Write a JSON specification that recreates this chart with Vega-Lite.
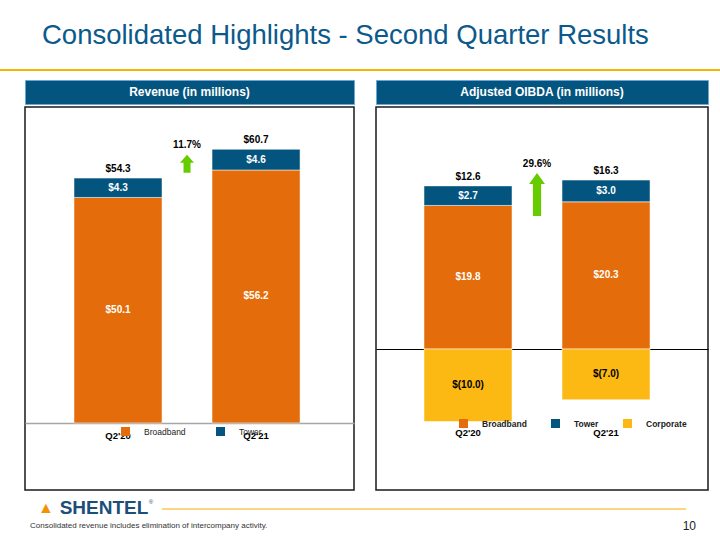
{
  "$schema": "https://vega.github.io/schema/vega-lite/v6.json",
  "padding": {"left": 0, "top": 22, "right": 0, "bottom": 0},
  "background": "white",
  "title": {
    "text": "Consolidated Highlights - Second Quarter Results",
    "anchor": "start",
    "dx": 42,
    "fontSize": 27.5,
    "font": "Liberation Sans",
    "fontWeight": "normal",
    "color": "#0c5a8b",
    "offset": 19.5
  },
  "spacing": 8,
  "vconcat": [
    {
      "width": 720, "height": 2,
      "view": {"fill": "#f2b600", "stroke": null},
      "data": {"values": [{"t": ""}]},
      "mark": {"type": "text", "fontSize": 1},
      "encoding": {"text": {"field": "t"}}
    },
    {
      "spacing": 20,
      "resolve": {"scale": {"color": "independent"}, "legend": {"color": "independent"}},
      "hconcat": [
        {"width": 4, "height": 10, "data": {"values": [{"t": ""}]}, "mark": {"type": "text", "fontSize": 1}, "encoding": {"text": {"field": "t"}}},
        {
          "spacing": 1,
          "vconcat": [
            {
              "width": 329, "height": 24,
              "view": {"fill": "#03557f", "stroke": "#6aa6d6", "strokeWidth": 1},
              "data": {"values": [{"t": "Revenue (in millions)"}]},
              "mark": {"type": "text", "color": "#ffffff", "fontWeight": "bold", "fontSize": 12, "baseline": "middle"},
              "encoding": {"text": {"field": "t"}}
            },
            {
              "width": 329, "height": 383,
              "view": {"stroke": "#1a1a1a", "strokeWidth": 1.5},
              "data": {"values": [
                {"q": "Q2'20", "seg": "Broadband", "v": 50.1, "lab": "$50.1", "total": "$54.3"},
                {"q": "Q2'20", "seg": "Tower", "v": 4.3, "lab": "$4.3", "total": "$54.3"},
                {"q": "Q2'21", "seg": "Broadband", "v": 56.2, "lab": "$56.2", "total": "$60.7"},
                {"q": "Q2'21", "seg": "Tower", "v": 4.6, "lab": "$4.6", "total": "$60.7"}
              ]},
              "layer": [
                {
                  "mark": {"type": "bar", "stroke": "#ffffff", "strokeWidth": 0.5},
                  "encoding": {
                    "x": {"field": "q", "type": "nominal", "axis": null,
                      "scale": {"domain": ["Q2'20", "Q2'21"], "paddingInner": 0.3623, "paddingOuter": 0.373, "align": 0.476}},
                    "y": {"field": "v", "type": "quantitative", "stack": "zero",
                      "axis": {"values": [0], "grid": true, "gridColor": "#a6a6a6", "gridWidth": 1.5, "labels": false, "ticks": false, "domain": false, "title": null},
                      "scale": {"domain": [-14.9, 70.2], "nice": false, "zero": false}},
                    "color": {"field": "seg", "type": "nominal",
                      "scale": {"domain": ["Broadband", "Tower"], "range": ["#e46c0a", "#03557f"]},
                      "legend": {"orient": "none", "legendX": 96, "legendY": 347, "direction": "horizontal", "title": null,
                        "symbolType": "square", "symbolSize": 81, "symbolStrokeWidth": 0, "labelFontSize": 8.5,
                        "labelOffset": 14, "columnPadding": 30, "labelColor": "#222222", "labelFont": "Liberation Sans"}},
                    "order": {"field": "seg", "sort": "ascending"}
                  }
                },
                {
                  "mark": {"type": "text", "fontWeight": "bold", "fontSize": 10, "color": "#ffffff", "baseline": "middle"},
                  "encoding": {
                    "x": {"field": "q", "type": "nominal"},
                    "y": {"field": "v", "type": "quantitative", "stack": "zero", "bandPosition": 0.5},
                    "detail": {"field": "seg"},
                    "order": {"field": "seg", "sort": "ascending"},
                    "text": {"field": "lab"}
                  }
                },
                {
                  "transform": [
                    {"filter": "datum.v > 0"},
                    {"aggregate": [{"op": "sum", "field": "v", "as": "top"}], "groupby": ["q", "total"]}
                  ],
                  "mark": {"type": "text", "fontWeight": "bold", "fontSize": 10, "color": "#000000", "baseline": "bottom", "dy": -4},
                  "encoding": {
                    "x": {"field": "q", "type": "nominal"},
                    "y": {"field": "top", "type": "quantitative"},
                    "text": {"field": "total"}
                  }
                },
                {
                  "transform": [{"filter": "datum.seg === 'Broadband'"}],
                  "mark": {"type": "text", "fontWeight": "bold", "fontSize": 9.5, "color": "#000000", "baseline": "middle", "dy": 13},
                  "encoding": {
                    "x": {"field": "q", "type": "nominal"},
                    "y": {"datum": 0, "type": "quantitative"},
                    "text": {"field": "q"}
                  }
                },
                {
                  "data": {"values": [{"g": "11.7%"}]},
                  "mark": {"type": "point", "filled": true, "opacity": 1, "color": "#66cc00", "size": 324,
                    "shape": "M0,-1 L0.78,-0.11 L0.39,-0.11 L0.39,1 L-0.39,1 L-0.39,-0.11 L-0.78,-0.11 Z"},
                  "encoding": {
                    "x": {"datum": "Q2'20", "bandPosition": 1.284},
                    "y": {"datum": 57.6, "type": "quantitative"}
                  }
                },
                {
                  "data": {"values": [{"g": "11.7%"}]},
                  "mark": {"type": "text", "fontWeight": "bold", "fontSize": 10, "color": "#000000", "baseline": "middle"},
                  "encoding": {
                    "x": {"datum": "Q2'20", "bandPosition": 1.284},
                    "y": {"datum": 61.8, "type": "quantitative"},
                    "text": {"field": "g"}
                  }
                }
              ]
            }
          ]
        },
        {
          "spacing": 1,
          "vconcat": [
            {
              "width": 332, "height": 24,
              "view": {"fill": "#03557f", "stroke": "#6aa6d6", "strokeWidth": 1},
              "data": {"values": [{"t": "Adjusted OIBDA (in millions)"}]},
              "mark": {"type": "text", "color": "#ffffff", "fontWeight": "bold", "fontSize": 12, "baseline": "middle"},
              "encoding": {"text": {"field": "t"}}
            },
            {
              "width": 332, "height": 383,
              "view": {"stroke": "#1a1a1a", "strokeWidth": 1.5},
              "data": {"values": [
                {"q": "Q2'20", "seg": "Broadband", "v": 19.8, "lab": "$19.8", "total": "$12.6"},
                {"q": "Q2'20", "seg": "Tower", "v": 2.7, "lab": "$2.7", "total": "$12.6"},
                {"q": "Q2'20", "seg": "Corporate", "v": -10.0, "lab": "$(10.0)", "total": "$12.6"},
                {"q": "Q2'21", "seg": "Broadband", "v": 20.3, "lab": "$20.3", "total": "$16.3"},
                {"q": "Q2'21", "seg": "Tower", "v": 3.0, "lab": "$3.0", "total": "$16.3"},
                {"q": "Q2'21", "seg": "Corporate", "v": -7.0, "lab": "$(7.0)", "total": "$16.3"}
              ]},
              "layer": [
                {
                  "mark": {"type": "bar", "stroke": "#ffffff", "strokeWidth": 0.5},
                  "encoding": {
                    "x": {"field": "q", "type": "nominal", "axis": null,
                      "scale": {"domain": ["Q2'20", "Q2'21"], "paddingInner": 0.3623, "paddingOuter": 0.384, "align": 0.453}},
                    "y": {"field": "v", "type": "quantitative", "stack": "zero",
                      "axis": {"values": [0], "grid": true, "gridColor": "#000000", "gridWidth": 1.2, "labels": false, "ticks": false, "domain": false, "title": null},
                      "scale": {"domain": [-19.45, 33.38], "nice": false, "zero": false}},
                    "color": {"field": "seg", "type": "nominal",
                      "scale": {"domain": ["Broadband", "Tower", "Corporate"], "range": ["#e46c0a", "#03557f", "#fdb913"]},
                      "legend": {"orient": "none", "legendX": 83, "legendY": 339, "direction": "horizontal", "title": null,
                        "symbolType": "square", "symbolSize": 81, "symbolStrokeWidth": 0, "labelFontSize": 8.5,
                        "labelFontWeight": "bold", "labelOffset": 14, "columnPadding": 24,
                        "labelColor": "#222222", "labelFont": "Liberation Sans"}},
                    "order": {"field": "seg", "sort": "ascending"}
                  }
                },
                {
                  "transform": [{"filter": "datum.v > 0"}],
                  "mark": {"type": "text", "fontWeight": "bold", "fontSize": 10, "color": "#ffffff", "baseline": "middle"},
                  "encoding": {
                    "x": {"field": "q", "type": "nominal"},
                    "y": {"field": "v", "type": "quantitative", "stack": "zero", "bandPosition": 0.5},
                    "detail": {"field": "seg"},
                    "order": {"field": "seg", "sort": "ascending"},
                    "text": {"field": "lab"}
                  }
                },
                {
                  "transform": [{"filter": "datum.v < 0"}],
                  "mark": {"type": "text", "fontWeight": "bold", "fontSize": 10, "color": "#000000", "baseline": "middle"},
                  "encoding": {
                    "x": {"field": "q", "type": "nominal"},
                    "y": {"field": "v", "type": "quantitative", "stack": "zero", "bandPosition": 0.5},
                    "detail": {"field": "seg"},
                    "order": {"field": "seg", "sort": "ascending"},
                    "text": {"field": "lab"}
                  }
                },
                {
                  "transform": [
                    {"filter": "datum.v > 0"},
                    {"aggregate": [{"op": "sum", "field": "v", "as": "top"}], "groupby": ["q", "total"]}
                  ],
                  "mark": {"type": "text", "fontWeight": "bold", "fontSize": 10, "color": "#000000", "baseline": "bottom", "dy": -4},
                  "encoding": {
                    "x": {"field": "q", "type": "nominal"},
                    "y": {"field": "top", "type": "quantitative"},
                    "text": {"field": "total"}
                  }
                },
                {
                  "transform": [{"filter": "datum.seg === 'Broadband'"}],
                  "mark": {"type": "text", "fontWeight": "bold", "fontSize": 9.5, "color": "#000000", "baseline": "middle", "dy": 12},
                  "encoding": {
                    "x": {"field": "q", "type": "nominal"},
                    "y": {"datum": -10, "type": "quantitative"},
                    "text": {"field": "q"}
                  }
                },
                {
                  "data": {"values": [{"g": "29.6%"}]},
                  "mark": {"type": "point", "filled": true, "opacity": 1, "color": "#66cc00", "size": 1849,
                    "shape": "M0,-1 L0.37,-0.49 L0.19,-0.49 L0.19,1 L-0.19,1 L-0.19,-0.49 L-0.37,-0.49 Z"},
                  "encoding": {
                    "x": {"datum": "Q2'20", "bandPosition": 1.284},
                    "y": {"datum": 21.3, "type": "quantitative"}
                  }
                },
                {
                  "data": {"values": [{"g": "29.6%"}]},
                  "mark": {"type": "text", "fontWeight": "bold", "fontSize": 10, "color": "#000000", "baseline": "middle"},
                  "encoding": {
                    "x": {"datum": "Q2'20", "bandPosition": 1.284},
                    "y": {"datum": 25.5, "type": "quantitative"},
                    "text": {"field": "g"}
                  }
                }
              ]
            }
          ]
        }
      ]
    },
    {
      "spacing": 2,
      "vconcat": [
        {
          "spacing": 0,
          "hconcat": [
            {"width": 36, "height": 16, "data": {"values": [{"t": ""}]}, "mark": {"type": "text", "fontSize": 1}, "encoding": {"text": {"field": "t"}}},
            {
              "width": 20, "height": 16,
              "data": {"values": [{"s": "▲"}]},
              "mark": {"type": "text", "fontSize": 16, "color": "#f39200", "baseline": "middle"},
              "encoding": {"text": {"field": "s"}}
            },
            {
              "width": 106, "height": 16,
              "data": {"values": [{"t": "SHENTEL", "r": "®"}]},
              "layer": [
                {"mark": {"type": "text", "fontWeight": "bold", "fontSize": 19, "color": "#1b4f7a", "dx": -5, "baseline": "middle"}, "encoding": {"text": {"field": "t"}}},
                {"mark": {"type": "text", "fontSize": 6, "color": "#1b4f7a", "dx": 42, "dy": -6, "baseline": "middle"}, "encoding": {"text": {"field": "r"}}}
              ]
            },
            {
              "spacing": 7,
              "vconcat": [
                {"width": 524, "height": 1, "data": {"values": [{"t": ""}]}, "mark": {"type": "text", "fontSize": 1}, "encoding": {"text": {"field": "t"}}},
                {"width": 524, "height": 2, "view": {"fill": "#fcd67f", "stroke": null}, "data": {"values": [{"t": ""}]}, "mark": {"type": "text", "fontSize": 1}, "encoding": {"text": {"field": "t"}}}
              ]
            }
          ]
        },
        {
          "spacing": 0,
          "hconcat": [
            {"width": 30, "height": 6, "data": {"values": [{"t": ""}]}, "mark": {"type": "text", "fontSize": 1}, "encoding": {"text": {"field": "t"}}},
            {
              "width": 666, "height": 6,
              "data": {"values": [{"t": "Consolidated revenue includes elimination of intercompany activity.", "p": "10"}]},
              "layer": [
                {"mark": {"type": "text", "fontSize": 8, "color": "#333333", "align": "left", "baseline": "middle", "dx": -333}, "encoding": {"text": {"field": "t"}}},
                {"mark": {"type": "text", "fontSize": 12, "color": "#222222", "align": "right", "baseline": "middle", "dx": 333}, "encoding": {"text": {"field": "p"}}}
              ]
            }
          ]
        }
      ]
    }
  ],
  "config": {
    "font": "Liberation Sans",
    "view": {"stroke": null}
  }
}
